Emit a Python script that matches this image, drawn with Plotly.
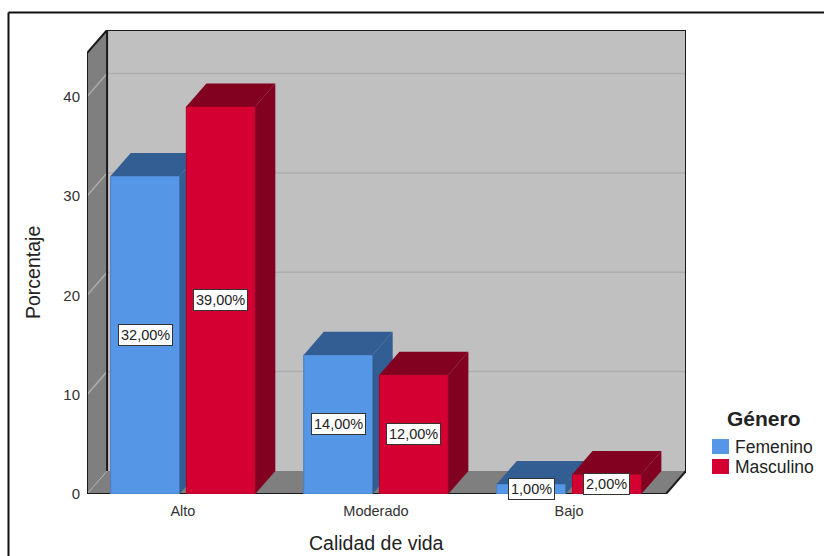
import plotly.graph_objects as go

categories = ["Alto", "Moderado", "Bajo"]
femenino = [32, 14, 1]
masculino = [39, 12, 2]
y_ticks = [0, 10, 20, 30, 40]
legend_names = ["Femenino", "Masculino"]

W, H = 824, 556
FONT = "Liberation Sans"
L, R, T, B = 87, 138, 30, 62
COL_F, COL_F_DARK = "#5596E6", "#325E93"
COL_M, COL_M_DARK = "#D50032", "#820020"

# the fake 3D look: depth of the box, in axis units
dx = 0.104
dy = 2.32
bar_w = 0.357
shift = 0.196
x_min, x_max = -0.497, 2.606
y_max = 46.7
x_back = x_min + dx
x_front_end = x_max - dx


def px(x):
    return (x - L) / (W - L - R)


def py(y):
    return (H - B - y) / (H - T - B)


def label(v):
    return f"{v:.2f}".replace(".", ",") + "%"


def faces(xs, vals, dark, xa, ya):
    out = []
    for x0, v in zip(xs, vals):
        l, r = x0 - bar_w / 2, x0 + bar_w / 2
        out.append(go.Scatter(
            x=[r, r + dx, r + dx, r, r], y=[0, dy, v + dy, v, 0],
            fill="toself", fillcolor=dark, mode="lines", line=dict(width=0),
            hoverinfo="skip", showlegend=False, xaxis=xa, yaxis=ya))
        out.append(go.Scatter(
            x=[l, l + dx, r + dx, r, l], y=[v, v + dy, v + dy, v, v],
            fill="toself", fillcolor=dark, mode="lines", line=dict(width=0),
            hoverinfo="skip", showlegend=False, xaxis=xa, yaxis=ya))
    return out


pos = list(range(len(categories)))
x_f = [p - shift for p in pos]
x_m = [p + shift for p in pos]

fig = go.Figure()
fig.add_trace(go.Bar(x=x_f, y=femenino, width=bar_w, name=legend_names[0], showlegend=False,
                     marker=dict(color=COL_F, line=dict(color="#4a7fc0", width=1))))
fig.add_traces(faces(x_f, femenino, COL_F_DARK, "x", "y"))
fig.add_trace(go.Bar(x=x_m, y=masculino, width=bar_w, name=legend_names[1], showlegend=False,
                     xaxis="x2", yaxis="y2",
                     marker=dict(color=COL_M, line=dict(color="#b0002a", width=1))))
fig.add_traces(faces(x_m, masculino, COL_M_DARK, "x2", "y2"))


def poly(xs, ys):
    return "M" + "L".join(f"{a},{b}" for a, b in zip(xs, ys)) + "Z"


shapes = [
    dict(type="rect", x0=x_back, x1=x_max, y0=dy, y1=y_max, fillcolor="#C0C0C0", line_width=0, layer="below"),
    dict(type="path", path=poly([x_min, x_back, x_back, x_min], [0, dy, y_max, y_max - dy]),
         fillcolor="#7F7F7F", line_width=0, layer="below"),
    dict(type="path", path=poly([x_min, x_back, x_max, x_front_end], [0, dy, dy, 0]),
         fillcolor="#7F7F7F", line_width=0, layer="below"),
]
for t in y_ticks[1:]:
    shapes.append(dict(type="line", x0=x_back, x1=x_max, y0=t + dy, y1=t + dy,
                       line=dict(color="#ADADAD", width=1.5), layer="below"))
    shapes.append(dict(type="line", x0=x_min, x1=x_back, y0=t, y1=t + dy,
                       line=dict(color="#ADADAD", width=1.5), layer="below"))
shapes.append(dict(type="line", x0=x_min, x1=x_back, y0=0, y1=dy,
                   line=dict(color="#ADADAD", width=1), layer="below"))
# box outline
for a, b, c, d in [
    (x_min, x_front_end, 0, 0),
    (x_front_end, x_max, 0, dy),
    (x_max, x_max, dy, y_max),
    (x_back, x_max, y_max, y_max),
    (x_min, x_back, y_max - dy, y_max),
    (x_min, x_min, 0, y_max - dy),
    (x_back, x_back, dy, y_max),
]:
    shapes.append(dict(type="line", x0=a, x1=b, y0=c, y1=d,
                       line=dict(color="#1a1a1a", width=2), layer="below"))
# outer chart frame (only top and left are in the picture)
shapes.append(dict(type="line", xref="paper", yref="paper", x0=px(8.5), x1=px(W + 2),
                   y0=py(12.5), y1=py(12.5), line=dict(color="#111111", width=2)))
shapes.append(dict(type="line", xref="paper", yref="paper", x0=px(8.5), x1=px(8.5),
                   y0=py(12.5), y1=py(H + 2), line=dict(color="#111111", width=2)))
# legend swatches, bigger than the ones plotly draws
for y0, color in [(439, COL_F), (459, COL_M)]:
    shapes.append(dict(type="rect", xref="paper", yref="paper", x0=px(712), x1=px(729),
                       y0=py(y0), y1=py(y0 + 15), fillcolor=color, line_width=0))

annotations = []
for xs, vals, xa, ya in [(x_f, femenino, "x", "y"), (x_m, masculino, "x2", "y2")]:
    for x0, v in zip(xs, vals):
        annotations.append(dict(
            x=x0, y=v / 2, xref=xa, yref=ya, text=label(v), showarrow=False,
            font=dict(family=FONT, size=14.5, color="#222222"),
            bgcolor="white", bordercolor="#333333", borderwidth=1, borderpad=2))


def text_at(x, y, text, size, anchor="center", angle=0):
    annotations.append(dict(
        x=px(x), y=py(y), xref="paper", yref="paper", text=text, showarrow=False,
        xanchor=anchor, yanchor="middle", textangle=angle,
        font=dict(family=FONT, size=size, color="#222222")))


text_at(376, 543, "Calidad de vida", 19.5)
text_at(33, 273, "Porcentaje", 19.5, angle=-90)
text_at(764, 418, "<b>Género</b>", 21)
text_at(733, 447, legend_names[0], 17.5, anchor="left")
text_at(733, 467, legend_names[1], 17.5, anchor="left")

fig.update_layout(
    width=W,
    height=H,
    margin=dict(l=L, r=R, t=T, b=B, autoexpand=False),
    paper_bgcolor="white",
    plot_bgcolor="white",
    font=dict(family=FONT, color="#333333"),
    showlegend=False,
    barmode="overlay",
    xaxis=dict(range=[x_min, x_max], showgrid=False, zeroline=False, showline=False,
               tickmode="array", tickvals=pos, ticktext=categories, ticks="",
               ticklabelstandoff=6, tickfont=dict(size=14.5)),
    yaxis=dict(range=[0, y_max], showgrid=False, zeroline=False, showline=False, tickmode="array",
               tickvals=y_ticks, ticks="", ticklabelstandoff=6, tickfont=dict(size=15)),
    xaxis2=dict(range=[x_min, x_max], overlaying="x", visible=False),
    yaxis2=dict(range=[0, y_max], overlaying="y", visible=False),
    shapes=shapes,
    annotations=annotations,
)

fig.write_html("out.html", config=dict(displayModeBar=False),
               post_script="document.body.style.margin='0';")
